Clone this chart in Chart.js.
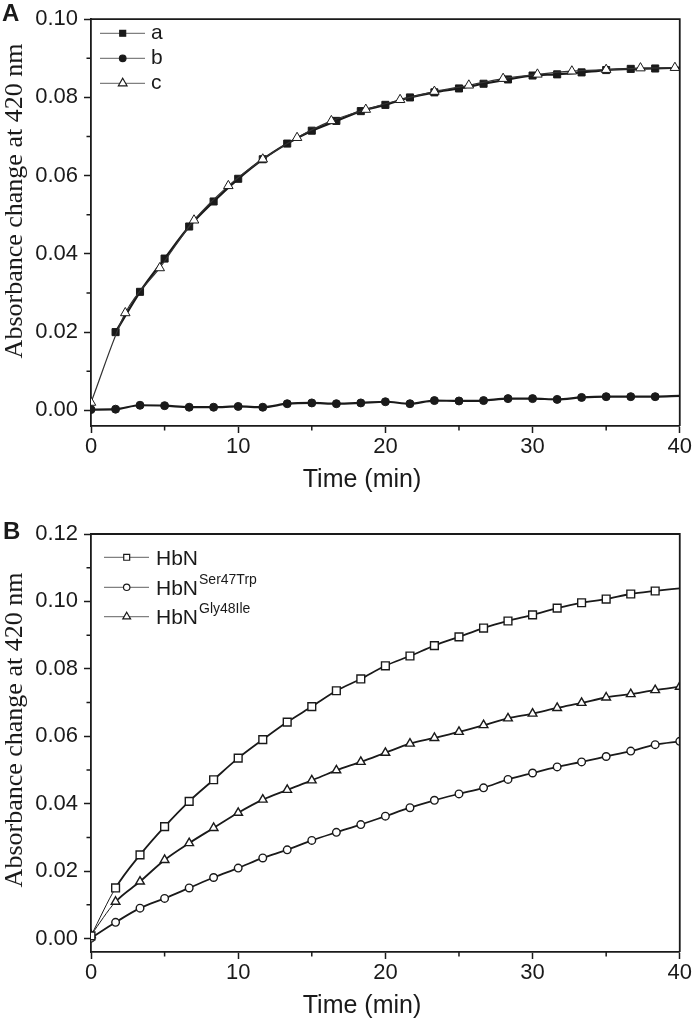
<!DOCTYPE html>
<html>
<head>
<meta charset="utf-8">
<script src="https://cdn.jsdelivr.net/npm/chart.js@4.4.0/dist/chart.umd.min.js"></script>
<style>
  html, body { margin: 0; padding: 0; background: #fff; }
  body { width: 693px; height: 1019px; position: relative; overflow: hidden; }
  .panel { position: absolute; left: 0; width: 693px; }
  #panelA { top: 0; height: 510px; }
  #panelB { top: 510px; height: 509px; }
</style>
</head>
<body>
<div class="panel" id="panelA"><canvas id="chartA" width="693" height="510"></canvas></div>
<div class="panel" id="panelB"><canvas id="chartB" width="693" height="509"></canvas></div>
<script>
// time points (min) where the markers sit
const timeSteps = [0, 1.67, 3.33, 5, 6.67, 8.33, 10, 11.67, 13.33, 15, 16.67, 18.33, 20,
  21.67, 23.33, 25, 26.67, 28.33, 30, 31.67, 33.33, 35, 36.67, 38.33, 40];
const timeStepsA = [1.67, 3.33, 5, 6.67, 8.33, 10, 11.67, 13.33, 15, 16.67, 18.33, 20,
  21.67, 23.33, 25, 26.67, 28.33, 30, 31.67, 33.33, 35, 36.67, 38.33, 40];
const timeStepsC = [0, 2.33, 4.67, 7, 9.33, 11.67, 14, 16.33, 18.67, 21, 23.33, 25.67, 28,
  30.33, 32.67, 35, 37.33, 39.67];

// panel A
const seriesA_a = [0.0200, 0.0303, 0.0388, 0.0470, 0.0534, 0.0592, 0.0642, 0.0682, 0.0715,
  0.0740, 0.0765, 0.0781, 0.0800, 0.0813, 0.0823, 0.0835, 0.0846, 0.0856, 0.0859, 0.0864, 0.0870,
  0.0873, 0.0874, 0.0876];
const seriesA_b = [0.0002, 0.0003, 0.0013, 0.0012, 0.0008, 0.0008, 0.0010, 0.0008, 0.0017, 0.0019,
  0.0017, 0.0019, 0.0022, 0.0017, 0.0025, 0.0024, 0.0025, 0.0030, 0.0030, 0.0028, 0.0033, 0.0035,
  0.0035, 0.0035, 0.0037];
const seriesA_c = [0.0020, 0.0249, 0.0364, 0.0486, 0.0574, 0.0642, 0.0697, 0.0740, 0.0769, 0.0794,
  0.0815, 0.0831, 0.0848, 0.0859, 0.0867, 0.0871, 0.0875, 0.0876];

// panel B
const seriesHbN = [0.0008, 0.0150, 0.0248, 0.0332, 0.0407, 0.0471, 0.0535, 0.0590, 0.0642, 0.0688,
  0.0735, 0.0770, 0.0809, 0.0838, 0.0869, 0.0895, 0.0921, 0.0942, 0.0960, 0.0980, 0.0996, 0.1007,
  0.1022, 0.1031, 0.1039];
const seriesSer47Trp = [0.0001, 0.0048, 0.0090, 0.0119, 0.0150, 0.0181, 0.0209, 0.0239, 0.0263, 0.0291,
  0.0315, 0.0338, 0.0363, 0.0388, 0.0410, 0.0429, 0.0447, 0.0472, 0.0491, 0.0509, 0.0524, 0.0540,
  0.0556, 0.0575, 0.0585];
const seriesGly48Ile = [0.0010, 0.0109, 0.0169, 0.0233, 0.0283, 0.0328, 0.0373, 0.0412, 0.0441, 0.0469,
  0.0499, 0.0524, 0.0551, 0.0578, 0.0595, 0.0613, 0.0633, 0.0653, 0.0667, 0.0684, 0.0699, 0.0715,
  0.0725, 0.0737, 0.0747];

// axis ticks
const xTicks = [0, 10, 20, 30, 40];
const xMinorTicks = [5, 15, 25, 35];
const yTicksA = [0, 0.02, 0.04, 0.06, 0.08, 0.10];
const yMinorA = [0.01, 0.03, 0.05, 0.07, 0.09];
const yTicksB = [0, 0.02, 0.04, 0.06, 0.08, 0.10, 0.12];
const yMinorB = [0.01, 0.03, 0.05, 0.07, 0.09, 0.11];

const INK = '#1a1a1a';
const SANS = '"Liberation Sans", Arial, sans-serif';
const SERIF = '"Liberation Serif", "Times New Roman", serif';

function pts(xs, ys) {
  return xs.map((x, i) => ({ x: x, y: ys[i] }));
}

// first segment of each trace is drawn thin, like the reference
function thinStart(w) {
  return { borderWidth: c => c.p0DataIndex === 0 ? 1 : w };
}

function drawMarker(ctx, style, x, y, r, fill) {
  ctx.beginPath();
  if (style === 'rect') {
    const s = r * Math.SQRT1_2;
    ctx.rect(x - s, y - s, 2 * s, 2 * s);
  } else if (style === 'circle') {
    ctx.arc(x, y, r, 0, Math.PI * 2);
  } else {
    const h = r * Math.sqrt(3) / 2;
    ctx.moveTo(x, y - r);
    ctx.lineTo(x + h, y + r / 2);
    ctx.lineTo(x - h, y + r / 2);
    ctx.closePath();
  }
  ctx.fillStyle = fill;
  ctx.fill();
  ctx.lineWidth = 1.2;
  ctx.strokeStyle = INK;
  ctx.stroke();
}

// frame, minor ticks, axis titles, panel letter and legend
function framePlugin(p) {
  return {
    id: 'frame',
    afterDraw(chart) {
      const ctx = chart.ctx, a = chart.chartArea;
      const xs = chart.scales.x, ys = chart.scales.y;
      ctx.save();
      ctx.strokeStyle = INK;
      ctx.lineWidth = 1.8;
      ctx.beginPath();
      ctx.moveTo(a.left, a.top);
      ctx.lineTo(a.right, a.top);
      ctx.lineTo(a.right, a.bottom);
      ctx.stroke();

      ctx.lineWidth = 1.5;
      ctx.beginPath();
      p.xMinor.forEach(v => {
        const px = xs.getPixelForValue(v);
        ctx.moveTo(px, a.bottom);
        ctx.lineTo(px, a.bottom + 4.5);
      });
      p.yMinor.forEach(v => {
        const py = ys.getPixelForValue(v);
        ctx.moveTo(a.left - 4.5, py);
        ctx.lineTo(a.left, py);
      });
      ctx.stroke();

      ctx.fillStyle = INK;
      ctx.textBaseline = 'alphabetic';
      ctx.textAlign = 'center';
      ctx.font = '25px ' + SANS;
      ctx.fillText('Time (min)', p.xTitleX, p.xTitleY);

      ctx.save();
      ctx.translate(p.yTitleX, p.yTitleY);
      ctx.rotate(-Math.PI / 2);
      ctx.font = '26px ' + SERIF;
      ctx.fillText('Absorbance change at 420 nm', 0, 0);
      ctx.restore();

      ctx.textAlign = 'left';
      ctx.font = 'bold 24px ' + SANS;
      ctx.fillText(p.letter, p.letterX, p.letterY);

      const lg = p.legend;
      lg.rows.forEach(row => {
        ctx.strokeStyle = '#808080';
        ctx.lineWidth = 1.2;
        ctx.beginPath();
        ctx.moveTo(lg.x0, row.y);
        ctx.lineTo(lg.x1, row.y);
        ctx.stroke();
        drawMarker(ctx, row.style, lg.mx, row.y, row.r, row.fill);
        ctx.fillStyle = INK;
        ctx.font = '21px ' + SANS;
        const base = row.y + lg.baseOff;
        ctx.fillText(row.label, lg.tx, base);
        if (row.sup) {
          const w = ctx.measureText(row.label).width;
          ctx.font = '14px ' + SANS;
          ctx.fillText(row.sup, lg.tx + w + 1, base - 11);
        }
      });
      ctx.restore();
    }
  };
}

function panelOptions(yMax, yTicks, padTop, padRight, xHeight) {
  return {
    responsive: false,
    animation: false,
    layout: { autoPadding: false, padding: { top: padTop, right: padRight, left: 0, bottom: 0 } },
    plugins: { legend: { display: false }, tooltip: { enabled: false } },
    scales: {
      x: {
        type: 'linear', min: 0, max: 40,
        afterBuildTicks: s => { s.ticks = xTicks.map(v => ({ value: v })); },
        afterFit: s => { s.height = xHeight; },
        ticks: { color: INK, font: { family: SANS, size: 22 }, padding: 1, maxRotation: 0, autoSkip: false },
        grid: { drawOnChartArea: false, tickLength: 7, tickWidth: 1.5, tickColor: INK },
        border: { color: INK, width: 1.8 }
      },
      y: {
        type: 'linear', min: -0.004, max: yMax,
        afterBuildTicks: s => { s.ticks = yTicks.map(v => ({ value: v })); },
        afterFit: s => { s.width = 91; },
        ticks: { color: INK, font: { family: SANS, size: 22 }, padding: 6, autoSkip: false,
          callback: v => v.toFixed(2) },
        grid: { drawOnChartArea: false, tickLength: 7, tickWidth: 1.5, tickColor: INK },
        border: { color: INK, width: 1.8 }
      }
    }
  };
}

new Chart(document.getElementById('chartA').getContext('2d'), {
  type: 'line',
  data: {
    datasets: [{
      label: 'a',
      data: pts(timeStepsA, seriesA_a),
      borderColor: INK, borderWidth: 2.2,
      pointStyle: 'rect',
      pointRadius: timeStepsA.map((t, i) => i === timeStepsA.length - 1 ? 0 : 5),
      pointBackgroundColor: INK, pointBorderColor: INK, pointBorderWidth: 1,
      cubicInterpolationMode: 'monotone', clip: 0, order: 1
    }, {
      label: 'b',
      data: pts(timeSteps, seriesA_b),
      borderColor: INK, borderWidth: 2.2,
      pointStyle: 'circle',
      pointRadius: timeSteps.map((t, i) => i === timeSteps.length - 1 ? 0 : 4),
      pointBackgroundColor: INK, pointBorderColor: INK, pointBorderWidth: 1,
      cubicInterpolationMode: 'monotone', clip: 0, order: 1
    }, {
      label: 'c',
      data: pts(timeStepsC, seriesA_c),
      borderColor: '#333', borderWidth: 1.2,
      pointStyle: 'triangle', pointRadius: 5.5,
      pointBackgroundColor: '#fff', pointBorderColor: INK, pointBorderWidth: 1,
      cubicInterpolationMode: 'monotone', clip: 0, order: 0
    }]
  },
  options: panelOptions(0.10, yTicksA, 9, 12, 84),
  plugins: [framePlugin({
    xMinor: xMinorTicks, yMinor: yMinorA,
    xTitleX: 362, xTitleY: 487, yTitleX: 22, yTitleY: 201,
    letter: 'A', letterX: 2, letterY: 21,
    legend: {
      x0: 100, x1: 145, mx: 122.7, tx: 151, baseOff: 6,
      rows: [
        { y: 33.3, label: 'a', style: 'rect', r: 4.2, fill: INK },
        { y: 58.3, label: 'b', style: 'circle', r: 3.3, fill: INK },
        { y: 83.3, label: 'c', style: 'triangle', r: 5, fill: '#fff' }
      ]
    }
  })]
});

new Chart(document.getElementById('chartB').getContext('2d'), {
  type: 'line',
  data: {
    datasets: [{
      label: 'HbN',
      data: pts(timeSteps, seriesHbN),
      borderColor: INK, borderWidth: 1.8, segment: thinStart(1.8),
      pointStyle: 'rect',
      pointRadius: timeSteps.map((t, i) => i === timeSteps.length - 1 ? 0 : 5.5),
      pointBackgroundColor: '#fff', pointBorderColor: INK, pointBorderWidth: 1.4,
      cubicInterpolationMode: 'monotone', clip: 0
    }, {
      label: 'HbNSer47Trp',
      data: pts(timeSteps, seriesSer47Trp),
      borderColor: INK, borderWidth: 1.8,
      pointStyle: 'circle', pointRadius: 3.8,
      pointBackgroundColor: '#fff', pointBorderColor: INK, pointBorderWidth: 1.4,
      cubicInterpolationMode: 'monotone', clip: 0
    }, {
      label: 'HbNGly48Ile',
      data: pts(timeSteps, seriesGly48Ile),
      borderColor: INK, borderWidth: 1.8, segment: thinStart(1.8),
      pointStyle: 'triangle', pointRadius: 5,
      pointBackgroundColor: '#fff', pointBorderColor: INK, pointBorderWidth: 1.4,
      cubicInterpolationMode: 'monotone', clip: 0
    }]
  },
  options: panelOptions(0.12, yTicksB, 24, 13, 67),
  plugins: [framePlugin({
    xMinor: xMinorTicks, yMinor: yMinorB,
    xTitleX: 362, xTitleY: 503, yTitleX: 22, yTitleY: 220,
    letter: 'B', letterX: 3, letterY: 29,
    legend: {
      x0: 104, x1: 149, mx: 126.7, tx: 156, baseOff: 7.7,
      rows: [
        { y: 47.3, label: 'HbN', style: 'rect', r: 4.2, fill: '#fff' },
        { y: 77.3, label: 'HbN', sup: 'Ser47Trp', style: 'circle', r: 3.2, fill: '#fff' },
        { y: 106.7, label: 'HbN', sup: 'Gly48Ile', style: 'triangle', r: 4.5, fill: '#fff' }
      ]
    }
  })]
});
</script>
</body>
</html>
